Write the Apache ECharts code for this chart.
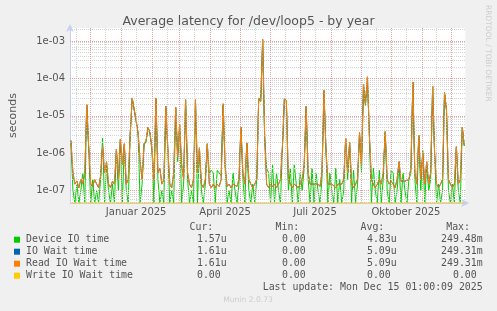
<!DOCTYPE html>
<html><head><meta charset="utf-8">
<script src="https://cdn.jsdelivr.net/npm/echarts@6/dist/echarts.min.js"></script>
<style>html,body{margin:0;padding:0;background:#f0f0f0;}#c{width:497px;height:311px;}</style>
</head><body><div id="c"></div>
<script>
// ---- data (values in microseconds, one sample every 2 days) ----
const seriesStart = '2024-11-11T00:00:00Z';
const stepDays = 2;
const deviceTime = [
2,0.1,0,0.15,0,0.1,0.3,0,19,1.2,
0,0.2,0,0.1,0,0.2,2.5,0,0.5,0.1,
0,0.15,0,1.2,0.1,2.2,0,1.6,0.1,0,
3.5,28,29,7,3,0,0.15,1.7,2,4.8,
3.2,1.2,0,29,0.2,0,0.1,0,17,1.2,
0,0.1,0,16,0.6,5.5,0,0.15,26,0.2,
0,0.1,0,26,0,1.3,0.1,0,0.15,1.7,
0.3,0.35,0.3,0,0.35,0.3,0.25,20,0.4,0,
0.1,0,0.3,0.1,0,0.15,4.8,0.2,0,1.8,
0.1,0,0.15,0,0.2,28,24,1000,2.5,0.4,
0.3,0,0.5,0,0.3,0.1,0,1.4,28,24,
0.1,0.4,0,0.5,0.15,0,0.3,0.1,0.4,17,
0.2,0,0.4,0,0.3,0.1,0,0.2,46,1.3,
0,0.3,0.1,0,0.4,0,0.2,0,0.1,2.5,
0.2,1.9,0,0.35,0,0.15,3.4,0.3,68,19,
105,2.8,0,0.4,0.1,0,0.35,0,0.2,3.6,
0.1,0,0.35,0.3,0,0.1,0.5,0,0.3,0.1,
0,0.2,0.3,78,0.2,0,3,0.1,1.2,0,
0.5,0.1,0.2,60,0.9,0,0.15,0,0.1,40,
14,0.1,0,0.15,0,1.4,0.1,0,4.8,1.57];
const readWait = [
2.2,0.3,0.15,0.18,0.12,0.2,0.15,0.3,20,1.4,
0.15,0.13,0.2,0.15,0.12,0.25,1.6,0.3,0.6,0.15,
0.12,0.18,0.15,1.3,0.2,2.4,0.5,1.8,0.15,0.2,
3.4,30,30,7.5,3.4,0.6,0.2,1.8,2.2,5,
3.5,1.3,0.2,30,0.3,0.4,0.15,0.2,18,1.4,
0.15,0.12,0.3,17,0.8,6,0.5,0.2,27,0.3,
0.15,0.12,0.2,27,0.3,1.4,0.15,0.12,0.2,1.8,
0.15,0.12,0.15,0.12,0.15,0.13,0.2,21,0.5,0.13,
0.15,0.12,0.15,0.15,0.13,0.2,5,0.3,0.15,1.9,
0.2,0.15,0.12,0.15,0.2,30,25,1100,3,0.15,
0.12,0.15,0.13,0.15,0.12,0.15,0.2,1.5,29,25,
0.2,0.15,0.12,0.15,0.15,0.12,0.15,0.2,0.5,18,
0.3,0.15,0.15,0.15,0.15,0.15,0.13,0.3,48,1.4,
0.15,0.15,0.15,0.15,0.12,0.15,0.15,0.15,0.2,2.5,
0.3,2,0.15,0.12,0.15,0.2,3.6,0.5,70,20,
110,3,0.2,0.15,0.12,0.15,0.2,0.15,0.3,3.8,
0.2,0.15,0.18,0.15,0.12,0.2,0.6,0.18,0.18,0.18,
0.18,0.2,0.4,80,0.3,0.15,3,0.2,1,0.15,
0.6,0.15,0.3,62,1,0.15,0.12,0.15,0.2,42,
15,0.2,0.15,0.12,0.15,1.5,0.15,0.2,5,1.61];
const ioWait = readWait; // identical to Read IO Wait time in the source
const writeWait = [
0,0,0,0,0,0,0,0,0,0,0,0,0,0,0,0,0,0,0,0,0,0,0,0,0,0,0,0,0,0,0,0,0,0,0,0,0,0,0,0,
0,0,0,0,0,0,0,0,0,0,0,0,0,0,0,0,0,0,0,0,0,0,0,0,0,0,0,0,0,0,0,0,0,0,0,0,0,0,0,0,
0,0,0,0,0,0,0,0,0,0,0,0,0,0,0,0,0,0,0,0,0,0,0,0,0,0,0,0,0,0,0,0,0,0,0,0,0,0,0,0,
0,0,0,0,0,0,0,0,0,0,0,0,0,0,0,0,0,0,0,0,0,0,0,0,0,0,0,0,0,0,0,0,0,0,0,0,0,0,0,0,
0,0,0,0,0,0,0,0,0,0,0,0,0,0,0,0,0,0,0,0,0,0,0,0,0,0,0,0,0,0,0,0,0,0,0,0,0,0,0,0];

const seriesNames = ['Device IO time','IO Wait time','Read IO Wait time','Write IO Wait time'];
const seriesColors = ['#00cc00','#0066b3','#ff8000','#ffcc00'];
const curVals = ['1.57u','1.61u','1.61u','0.00'];
const minVals = ['0.00','0.00','0.00','0.00'];
const avgVals = ['4.83u','5.09u','5.09u','0.00'];
const maxVals = ['249.48m','249.31m','249.31m','0.00'];
const colHeaders = ['Cur:','Min:','Avg:','Max:'];

const xTickDates = ['2025-01-16T00:00:00Z','2025-04-16T00:00:00Z','2025-07-16T00:00:00Z','2025-10-16T00:00:00Z'];
const xTickLabels = ['Januar 2025','April 2025','Juli 2025','Oktober 2025'];
const monthStarts = ['2024-12-01','2025-01-01','2025-02-01','2025-03-01','2025-04-01','2025-05-01','2025-06-01','2025-07-01','2025-08-01','2025-09-01','2025-10-01','2025-11-01','2025-12-01'];
const midMonths = ['2024-11-16','2024-12-16','2025-01-16','2025-02-16','2025-03-16','2025-04-16','2025-05-16','2025-06-16','2025-07-16','2025-08-16','2025-09-16','2025-10-16','2025-11-16'];
const yDecades = [1e-7,1e-6,1e-5,1e-4,1e-3];

const xStart = '2024-11-10T01:00:00Z';
const xEnd = '2025-12-15T01:00:09Z';
const yMin = 4.7e-8, yMax = 2.22e-3;

// ---- build ----
const t0 = Date.parse(seriesStart);
const DAY = 86400000;
function toSeries(arr){
  return arr.map((v,i)=>[t0 + i*stepDays*DAY, v === 0 ? yMin : v*1e-6]);
}
const xTickTimes = xTickDates.map(d=>Date.parse(d));

const minorY = [];
[1e-8,1e-7,1e-6,1e-5,1e-4,1e-3].forEach(d=>{
  for (let m=2;m<=9;m++){ const v=m*d; if (v>=yMin && v<=yMax) minorY.push(v); }
});
const MAJ = '#e6a0a0', MIN = '#d4d4d4';
const gridLines = []
  .concat(minorY.map(v=>({yAxis:v, lineStyle:{color:MIN}})))
  .concat(midMonths.map(d=>({xAxis:Date.parse(d+'T00:00:00Z'), lineStyle:{color:MIN}})))
  .concat(yDecades.map(v=>({yAxis:v, lineStyle:{color:MAJ}})))
  .concat(monthStarts.map(d=>({xAxis:Date.parse(d+'T00:00:00Z'), lineStyle:{color:MAJ}})));

const dataArrs = [deviceTime, ioWait, readWait, writeWait];
const series = [{
  name:'grid', type:'line', data: toSeries(writeWait), z:1, silent:true,
  showSymbol:false, lineStyle:{opacity:0},
  markLine:{silent:true, symbol:'none', animation:false, precision:20, label:{show:false},
    lineStyle:{type:[1,1], width:1}, data: gridLines}
}].concat(dataArrs.map((arr,k)=>({
  name: seriesNames[k], type:'line', data: toSeries(arr), z: 3+k,
  showSymbol:false, symbol:'none', clip:true,
  lineStyle:{color: seriesColors[k], width:1}, itemStyle:{color: seriesColors[k]}
})));

const MONO = '"DejaVu Sans Mono", monospace';
const SANS = '"DejaVu Sans", sans-serif';
const CW = 5.95;
const colEnds = [226.7, 311.7, 396.7, 482.7];
const headerEnds = [213.3, 299.3, 384.3, 470];
const graphics = [];
colHeaders.forEach((h,j)=>graphics.push({type:'text', x:headerEnds[j], y:227.3,
  style:{text:h, font:'9.9px '+MONO, fill:'#555', textAlign:'right', textVerticalAlign:'middle'}}));
const cols = [curVals,minVals,avgVals,maxVals];
seriesNames.forEach((n,k)=>{
  const y = 239.7 + 12*k;
  graphics.push({type:'rect', shape:{x:14, y:y-3, width:6, height:6}, style:{fill:seriesColors[k]}});
  graphics.push({type:'text', x:26, y:y, style:{text:n, font:'9.9px '+MONO, fill:'#555', textVerticalAlign:'middle'}});
  cols.forEach((c,j)=>{
    const s = c[k];
    const end = /[a-z]$/i.test(s) ? colEnds[j] : colEnds[j]-CW;
    graphics.push({type:'text', x:end, y:y, style:{text:s, font:'9.9px '+MONO, fill:'#555', textAlign:'right', textVerticalAlign:'middle'}});
  });
});
graphics.push({type:'text', x:482.7, y:287.7, style:{text:'Last update: Mon Dec 15 01:00:09 2025', font:'9.9px '+MONO, fill:'#555', textAlign:'right', textVerticalAlign:'middle'}});
graphics.push({type:'text', x:248, y:299.7, style:{text:'Munin 2.0.73', font:'7.6px '+SANS, fill:'#cccccc', textAlign:'center', textVerticalAlign:'middle'}});
graphics.push({type:'text', x:488, y:5, rotation:-Math.PI/2, style:{text:'RRDTOOL / TOBI OETIKER', font:'7.5px '+SANS, fill:'#cccccc', textAlign:'left', textVerticalAlign:'middle'}});

const chart = echarts.init(document.getElementById('c'), null, {renderer:'canvas'});
chart.setOption({
  animation:false,
  backgroundColor:'#f0f0f0',
  title:{text:'Average latency for /dev/loop5 - by year', left:'center', top:10,
    textStyle:{fontFamily:SANS, fontSize:12.5, fontWeight:'normal', color:'#555'}},
  grid:{left:65.3, right:31.7, top:28, bottom:108, show:true, backgroundColor:'#ffffff', borderWidth:0},
  xAxis:{type:'value', min:Date.parse(xStart), max:Date.parse(xEnd),
    axisLine:{show:true, lineStyle:{color:'#c5cff2', width:1}, symbol:['none','arrow'], symbolSize:[6,8], symbolOffset:[0,4]},
    axisTick:{show:false}, splitLine:{show:false},
    axisLabel:{customValues: xTickTimes, margin:4, fontFamily:SANS, fontSize:10, color:'#555',
      formatter:(v)=>{const i=xTickTimes.indexOf(v); return i>=0?xTickLabels[i]:'';}}},
  yAxis:{type:'log', logBase:10, min:yMin, max:yMax,
    name:'seconds', nameLocation:'middle', nameGap:51,
    nameTextStyle:{fontFamily:SANS, fontSize:11, color:'#555'},
    axisLine:{show:true, lineStyle:{color:'#c5cff2', width:1}, symbol:['none','arrow'], symbolSize:[6,8], symbolOffset:[0,4]},
    axisTick:{show:false}, splitLine:{show:false}, minorSplitLine:{show:false},
    axisLabel:{margin:5, fontFamily:SANS, fontSize:10, color:'#555', showMinLabel:false, showMaxLabel:false,
      formatter:(v)=>{const e=Math.log10(v); const r=Math.round(e); if (Math.abs(e-r)>1e-6) return ''; return '1e-'+String(-r).padStart(2,'0');}}},
  series: series,
  graphic: graphics
});
</script></body></html>
